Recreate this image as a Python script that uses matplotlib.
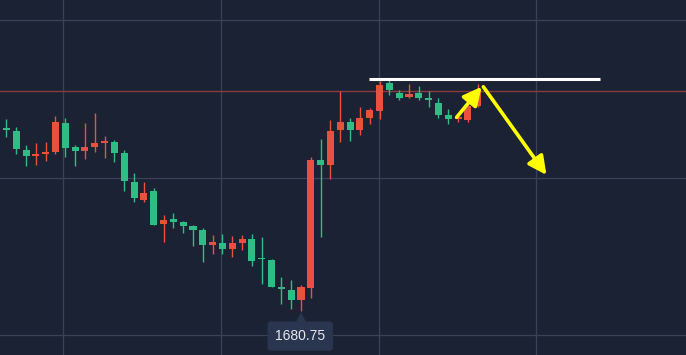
import matplotlib
matplotlib.use("Agg")
import matplotlib.pyplot as plt
import matplotlib.transforms as mtransforms
import numpy as np

# ---- data (prices) ----
opens = [1686.57, 1686.48, 1685.87, 1685.69, 1685.76, 1685.81, 1686.73, 1685.97, 1685.84, 1685.97,
         1686.10, 1686.13, 1685.78, 1684.86, 1684.29, 1684.57, 1683.52, 1683.68, 1683.59, 1683.46,
         1683.33, 1682.86, 1682.92, 1682.73, 1682.92, 1683.05, 1682.42, 1682.38, 1681.52, 1681.43,
         1681.11, 1681.49, 1685.56, 1685.40, 1686.51, 1686.76, 1686.51, 1686.89, 1687.11, 1688.00,
         1687.68, 1687.56, 1687.68, 1687.47, 1687.37, 1686.98, 1686.85, 1686.83, 1687.27]
highs = [1686.86, 1686.60, 1686.03, 1686.10, 1686.13, 1686.95, 1686.89, 1686.03, 1686.73, 1687.05,
         1686.32, 1686.19, 1685.87, 1685.14, 1684.86, 1684.67, 1683.81, 1683.87, 1683.62, 1683.49,
         1683.40, 1683.17, 1683.21, 1683.14, 1683.17, 1683.21, 1683.11, 1682.41, 1681.84, 1681.75,
         1681.59, 1685.65, 1686.22, 1686.83, 1687.75, 1686.89, 1687.24, 1687.21, 1688.06, 1688.10,
         1687.78, 1687.97, 1687.91, 1687.75, 1687.52, 1687.18, 1686.95, 1687.30, 1687.97]
lows = [1686.29, 1685.75, 1685.37, 1685.40, 1685.52, 1685.75, 1685.65, 1685.37, 1685.59, 1685.81,
        1685.62, 1685.49, 1684.57, 1684.22, 1684.22, 1683.49, 1682.95, 1683.40, 1683.24, 1682.83,
        1682.32, 1682.57, 1682.57, 1682.48, 1682.70, 1682.19, 1681.62, 1681.52, 1680.98, 1680.83,
        1680.75, 1681.17, 1683.11, 1684.95, 1686.13, 1686.16, 1686.35, 1686.70, 1686.86, 1687.62,
        1687.46, 1687.52, 1687.46, 1687.24, 1686.89, 1686.70, 1686.76, 1686.76, 1687.24]
closes = [1686.51, 1685.90, 1685.68, 1685.72, 1685.78, 1686.76, 1685.94, 1685.84, 1685.97, 1686.10,
          1686.16, 1685.78, 1684.89, 1684.35, 1684.51, 1683.49, 1683.65, 1683.59, 1683.46, 1683.33,
          1682.86, 1682.95, 1682.73, 1682.92, 1683.05, 1682.35, 1682.40, 1681.52, 1681.46, 1681.11,
          1681.52, 1685.56, 1685.40, 1686.48, 1686.76, 1686.51, 1686.89, 1687.14, 1687.94, 1687.78,
          1687.52, 1687.65, 1687.52, 1687.45, 1686.98, 1686.86, 1686.87, 1687.27, 1687.75]

low_label = "1680.75"
resistance_level = 1688.13
resistance_span = (36.9, 60.5)
arrow_up = ((45.85, 1686.91), (48.4, 1687.88))
arrow_down = ((48.57, 1687.88), (55.0, 1685.08))

# ---- style ----
BG = "#1b2234"
UP = "#e9513f"
DOWN = "#2ebd85"
GRID = "#3a4257"

fig = plt.figure(figsize=(6.86, 3.55), dpi=100, facecolor=BG)
ax = fig.add_axes([0, 0, 1, 1])
ax.set_facecolor(BG)

n = len(opens)
x = np.arange(n)
o = np.array(opens); c = np.array(closes); h = np.array(highs); l = np.array(lows)
up = c >= o
colors = np.where(up, UP, DOWN)

ax.vlines(x, l, h, colors=colors, linewidth=1.0, zorder=3)
bottoms = np.minimum(o, c)
heights = np.maximum(np.abs(c - o), 0.06)
ax.bar(x, heights, bottom=bottoms, width=0.72, color=colors, linewidth=0, zorder=4)

ax.set_xlim(-0.652, 69.21)
ax.set_ylim(1679.365, 1690.635)

# grid
for gx in [5.8, 21.85, 37.9, 53.95]:
    ax.axvline(gx, color=GRID, linewidth=0.9, zorder=1)
for gy in [1680, 1685, 1690]:
    ax.axhline(gy, color=GRID, linewidth=0.9, zorder=1)

# last price line
ax.axhline(closes[-1], color="#8c3a3c", linewidth=1.0, zorder=2)

# white resistance line
ax.plot(resistance_span, [resistance_level, resistance_level], color="white", linewidth=2.2, zorder=6,
        solid_capstyle="butt")

# yellow arrows
for (start, end) in [arrow_up, arrow_down]:
    ax.annotate("", xy=end, xytext=start,
                arrowprops=dict(arrowstyle="-|>,head_length=1.1,head_width=0.55", color="#ffff00",
                                lw=2.6, shrinkA=0, shrinkB=0),
                zorder=7)

# low tooltip
imin = int(np.argmin(l))
tri_tr = mtransforms.offset_copy(ax.transData, fig=fig, x=0, y=-7.0, units="points")
ax.plot([imin], [l[imin]], marker="^", markersize=13, color="#2a3550", markeredgewidth=0,
        transform=tri_tr, zorder=8)
ax.annotate(low_label, xy=(imin, l[imin]), xytext=(-0.5, -17.8), textcoords="offset points",
            ha="center", va="center", fontsize=10, color="#e6e8ec", family="Liberation Sans",
            bbox=dict(boxstyle="round,pad=0.55,rounding_size=0.25", fc="#2a3550", ec="none"),
            zorder=9)

ax.set_xticks([]); ax.set_yticks([])
for s in ax.spines.values():
    s.set_visible(False)

fig.savefig("out.png", dpi=100, facecolor=BG)
